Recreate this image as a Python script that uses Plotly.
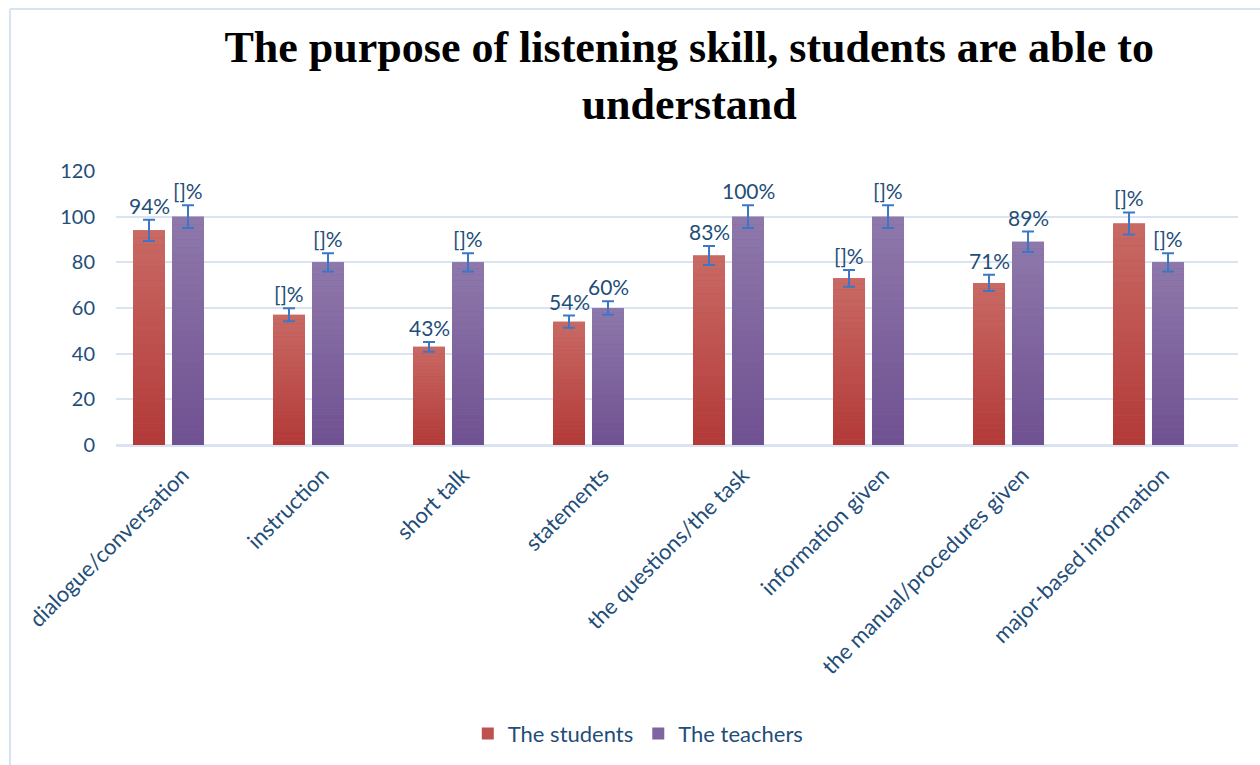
import plotly.graph_objects as go

# Categories and series values (percent)
categories = [
    "dialogue/conversation",
    "instruction",
    "short talk",
    "statements",
    "the questions/the task",
    "information given",
    "the manual/procedures given",
    "major-based information",
]
students = [94, 57, 43, 54, 83, 73, 71, 97]
teachers = [100, 80, 80, 60, 100, 100, 89, 80]

# Data label texts as printed above each bar
student_labels = ["94%", "[]%", "43%", "54%", "83%", "[]%", "71%", "[]%"]
teacher_labels = ["[]%", "[]%", "[]%", "60%", "100%", "[]%", "89%", "[]%"]

y_ticks = [0, 20, 40, 60, 80, 100, 120]

TEXT_BLUE = "#1f4e79"
ERR_BLUE = "#3b77c6"
GRID = "#d9e3f1"
FONT = "Lato"

# (bottom colour, top colour) of each vertical gradient
series = [
    ("The students", students, student_labels, (178, 57, 55), (201, 106, 101), -1),
    ("The teachers", teachers, teacher_labels, (111, 80, 145), (143, 121, 171), 1),
]

N_STEPS = 30


def mix(c0, c1, t):
    return "rgb(%d,%d,%d)" % tuple(round(a + (b - a) * t) for a, b in zip(c0, c1))


fig = go.Figure()

for rank, (name, vals, labels, c_bot, c_top, side) in enumerate(series):
    # solid base bar (also carries the legend entry)
    fig.add_trace(go.Bar(
        x=categories, y=vals, name=name, offsetgroup=name,
        marker=dict(color=mix(c_bot, c_top, 0.5), line=dict(width=0)),
        hoverinfo="skip", legendrank=rank + 1,
    ))
    # vertical gradient built from slices of each bar
    for j in range(N_STEPS):
        fig.add_trace(go.Bar(
            x=categories,
            y=[v / N_STEPS for v in vals],
            base=[v * j / N_STEPS for v in vals],
            offsetgroup=name, showlegend=False, hoverinfo="skip",
            marker=dict(color=mix(c_bot, c_top, (j + 0.5) / N_STEPS), line=dict(width=0)),
        ))

# error bars (5 %) drawn last so they sit on top of the bars
for name, vals, labels, c_bot, c_top, side in series:
    fig.add_trace(go.Bar(
        x=categories, y=vals, offsetgroup=name, showlegend=False, hoverinfo="skip",
        marker=dict(color="rgba(0,0,0,0)", line=dict(width=0)),
        error_y=dict(type="percent", value=5, color=ERR_BLUE, thickness=2, width=6),
    ))

# data labels above the error bars
for name, vals, labels, c_bot, c_top, side in series:
    for cat, v, lab in zip(categories, vals, labels):
        fig.add_annotation(
            x=cat, y=v * 1.05, text=lab, showarrow=False,
            xref="x", yref="y", xanchor="center", yanchor="bottom",
            xshift=19.5 * side, yshift=0,
            font=dict(family=FONT, size=21, color=TEXT_BLUE),
        )

# chart frame (top and left edges)
frame = dict(color="#d6e3f3", width=2)
fig.add_shape(type="line", xref="paper", yref="paper",
              x0=-0.0945, x1=1.02, y0=1.5916, y1=1.5916, line=frame)
fig.add_shape(type="line", xref="paper", yref="paper",
              x0=-0.0945, x1=-0.0945, y0=1.5916, y1=-1.17, line=frame)

fig.update_layout(
    template="none",
    width=1260, height=765,
    margin=dict(l=116, r=22, t=171, b=319),
    paper_bgcolor="white", plot_bgcolor="white",
    barmode="group", bargap=0.443, bargroupgap=0.18,
    title=dict(
        text="The purpose of listening skill, students are able to<br>understand",
        font=dict(family="Liberation Serif", size=44, color="black", weight="bold"),
        x=0.547, xref="container", xanchor="center",
        y=0.919, yref="container", yanchor="top",
    ),
    font=dict(family=FONT, size=21, color=TEXT_BLUE),
    xaxis=dict(
        type="category", range=[-0.375, 7.639], tickangle=-45,
        showgrid=False, showline=False, zeroline=False, ticks="",
        tickfont=dict(family=FONT, size=22, color=TEXT_BLUE),
        ticklabelstandoff=12, ticklabelshift=14,
        automargin=False,
    ),
    yaxis=dict(
        range=[0, 120], tickvals=y_ticks, showgrid=True, gridcolor=GRID, gridwidth=1.5,
        zeroline=True, zerolinecolor=GRID, zerolinewidth=3, showline=False, ticks="",
        ticklabelstandoff=20,
        tickfont=dict(family=FONT, size=20, color=TEXT_BLUE),
        automargin=False,
    ),
    legend=dict(
        orientation="h", x=0.4655, xanchor="center", y=-1.046, yanchor="middle",
        font=dict(family=FONT, size=22, color=TEXT_BLUE),
        bgcolor="rgba(0,0,0,0)",
    ),
    showlegend=True,
)

fig.write_html("out.html")
